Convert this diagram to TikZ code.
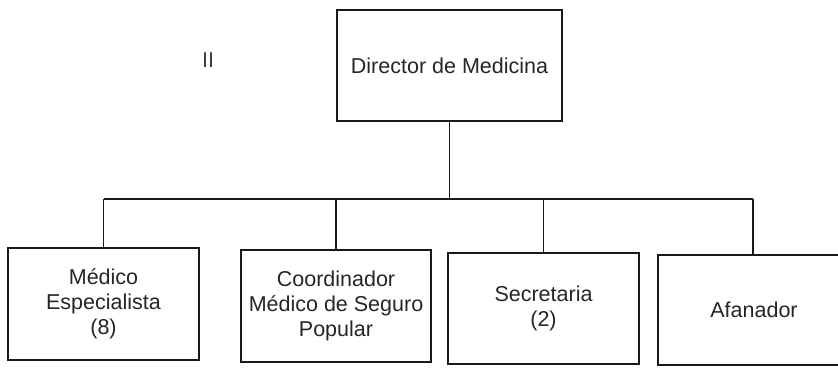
\documentclass[tikz,border=0pt]{standalone}
\usepackage{fontspec}
\setmainfont{Liberation Sans}
\begin{document}
\begin{tikzpicture}[x=1pt,y=-1pt,
  orgbox/.style={draw=black!90,line width=1.6pt,align=center,inner sep=0pt,
    font=\fontsize{21.5}{25}\selectfont,text=black!85},
  link/.style={draw=black!90,line width=1.5pt}]
\useasboundingbox (0,0) rectangle (838,367);
\clip (0,0) rectangle (838,367);
\fill[white] (0,0) rectangle (838,367);
\node[font=\fontsize{21.5}{25}\selectfont,text=black!75] (roman) at (208,60) {II};
\node[orgbox,minimum width=225pt,minimum height=111pt] (dir) at (449.5,65.5) {Director de Medicina};
\node[orgbox,minimum width=191pt,minimum height=112pt] (b1) at (103.5,304) {Médico\\Especialista\\(8)};
\node[orgbox,minimum width=190pt,minimum height=112pt] (b2) at (336,306) {Coordinador\\Médico de Seguro\\Popular};
\node[orgbox,minimum width=191pt,minimum height=111pt] (b3) at (543.5,308.5) {Secretaria\\(2)};
\node[orgbox,minimum width=240pt,minimum height=110pt] (b4) at (778,310) {Afanador\hspace*{48pt}};
\coordinate (bus) at (0,199);
\coordinate (d4) at (753,0);
\draw[link] (dir.south) -- (dir.south |- bus);
\draw[link] (b1.north |- bus) -- (d4 |- bus);
\foreach \b in {b1,b2,b3} \draw[link] (\b.north) -- (\b.north |- bus);
\draw[link] (d4 |- b4.north) -- (d4 |- bus);
\end{tikzpicture}
\end{document}
